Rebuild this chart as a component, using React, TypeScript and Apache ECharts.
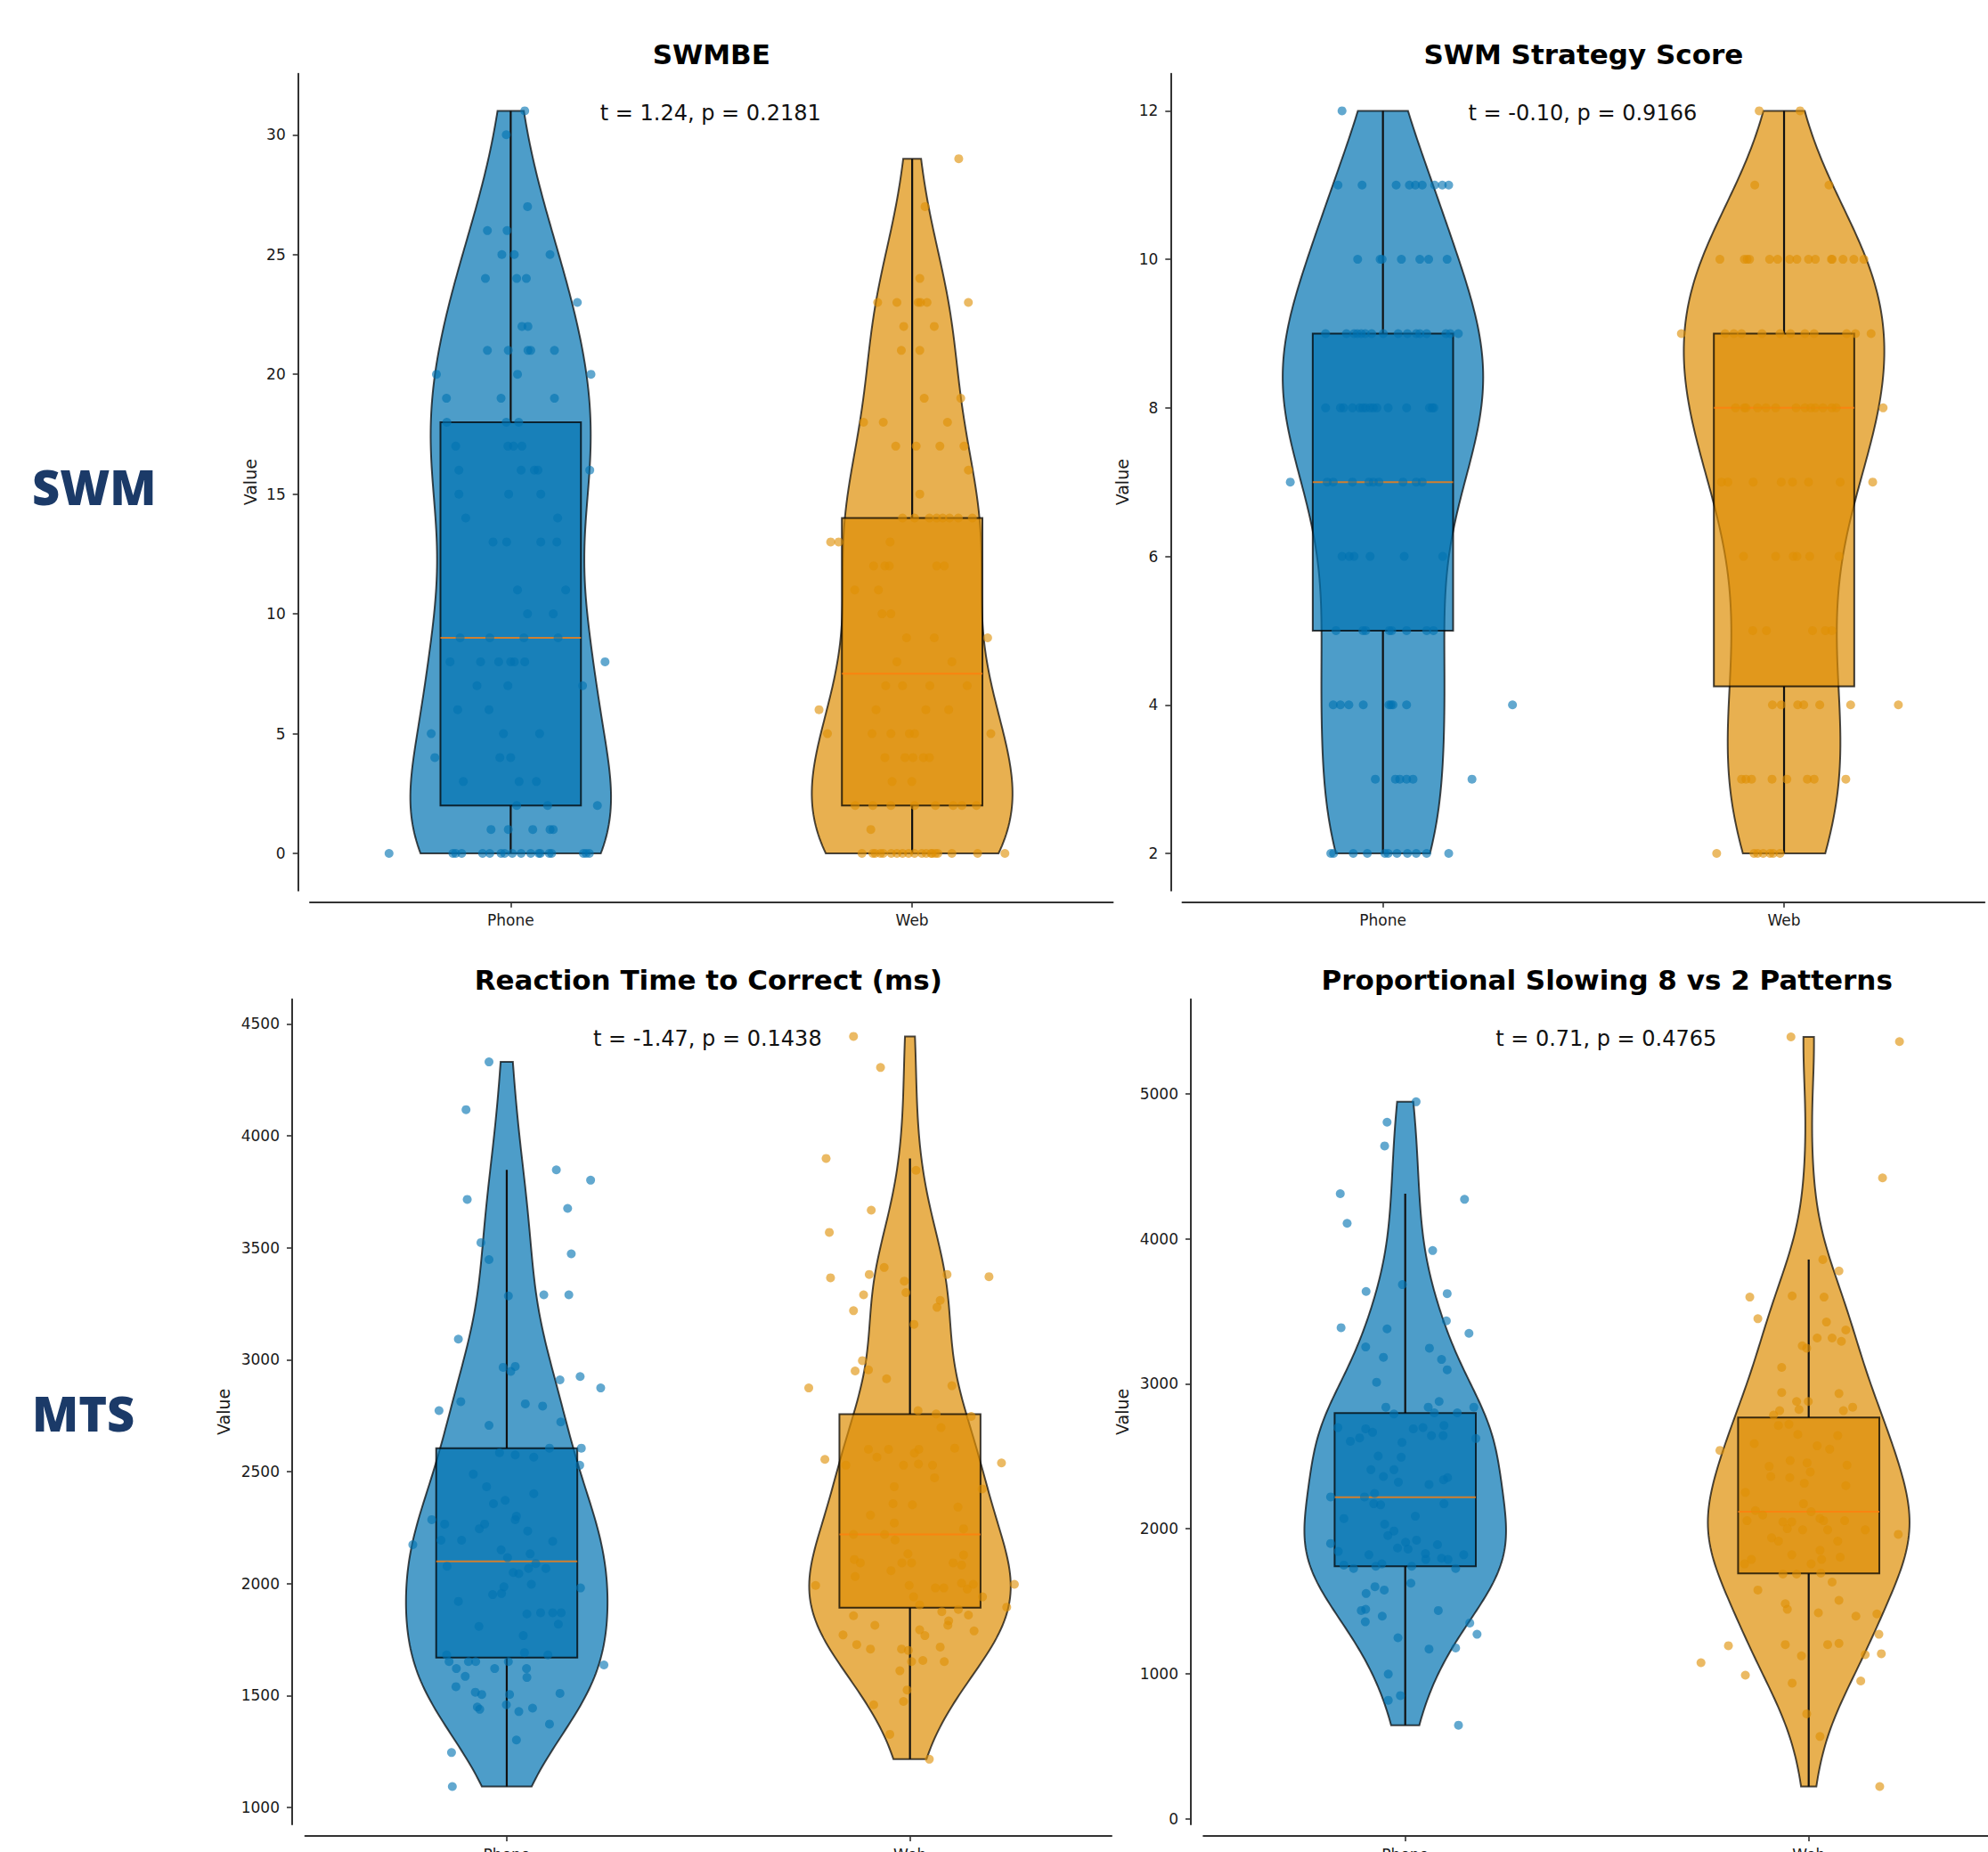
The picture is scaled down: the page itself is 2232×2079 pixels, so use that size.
import React, { useEffect, useRef } from 'react';
import * as echarts from 'echarts';

// ---------------- data ----------------
const categories = ['Phone', 'Web'];
const panelTitles = ['SWMBE', 'SWM Strategy Score', 'Reaction Time to Correct (ms)', 'Proportional Slowing 8 vs 2 Patterns'];
const statTexts = ['t = 1.24, p = 0.2181', 't = -0.10, p = 0.9166', 't = -1.47, p = 0.1438', 't = 0.71, p = 0.4765'];
const rowLabels = ['SWM', 'MTS'];
const yAxisName = 'Value';

const swmbeTicks = [0, 5, 10, 15, 20, 25, 30];
const strategyTicks = [2, 4, 6, 8, 10, 12];
const rtTicks = [1000, 1500, 2000, 2500, 3000, 3500, 4000, 4500];
const psTicks = [0, 1000, 2000, 3000, 4000, 5000];

const swmbeLimits = [-1.55, 32.55];
const strategyLimits = [1.5, 12.5];
const rtLimits = [925, 4610];
const psLimits = [-38, 5652];

// box statistics [lower whisker, Q1, median, Q3, upper whisker] for Phone, Web
const swmbeBoxes = [[0, 2, 9, 18, 31], [0, 2, 7.5, 14, 29]];
const strategyBoxes = [[2, 5, 7, 9, 12], [2, 4.25, 8, 9, 12]];
const rtBoxes = [[1094, 1670, 2100, 2605, 3848], [1216, 1893, 2220, 2757, 3899]];
const psBoxes = [[646, 1742, 2218, 2799, 4311], [223, 1692, 2118, 2768, 3857]];

// individual observations: [value, horizontal jitter in category units]
const swmbePhone: [number, number][] = [[31,.035],[30,-.011],[27,.042],[26,-.058],[26,-.009],[25,-.022],[25,.009],[25,.098],[24,-.063],[24,.015],[24,.039],[23,.166],[22,.028],[22,.043],[21,-.058],[21,-.006],[21,.043],[21,.05],[21,.109],[20,-.185],[20,.017],[20,.2],[19,-.16],[19,-.024],[19,.109],[18,-.159],[18,-.011],[18,.02],[17,-.137],[17,-.007],[17,.007],[17,.028],[16,-.129],[16,.026],[16,.059],[16,.068],[16,.197],[15,-.129],[15,-.005],[15,.075],[14,-.112],[14,.117],[13,-.044],[13,-.01],[13,.075],[13,.115],[11,.017],[11,.137],[10,.042],[10,.106],[9,-.126],[9,.033],[9,-.052],[9,.118],[8,-.151],[8,-.075],[8,-.03],[8,0],[8,.009],[8,.035],[8,.235],[7,-.084],[7,-.007],[7,.179],[6,-.132],[6,-.054],[5,-.198],[5,-.018],[5,.072],[4,-.189],[4,-.027],[4,0],[3,-.118],[3,.021],[3,.064],[2,.015],[2,.092],[2,.216],[1,-.049],[1,-.006],[1,.055],[1,.098],[1,.106],[0,-.303],[0,-.144],[0,-.137],[0,-.122],[0,-.07],[0,-.052],[0,-.024],[0,-.015],[0,.004],[0,.026],[0,.05],[0,.07],[0,.074],[0,.096],[0,.102],[0,.181],[0,.188],[0,.196]];
const swmbeWeb: [number, number][] = [[29,.116],[27,.032],[24,.019],[23,-.086],[23,-.038],[23,.015],[23,.021],[23,.037],[23,.14],[22,-.021],[22,.055],[21,-.027],[21,.019],[19,.03],[19,.121],[18,-.121],[18,-.072],[18,.088],[17,-.041],[17,.01],[17,.069],[17,.129],[16,.14],[15,.019],[14,.006],[14,.043],[14,.061],[14,.076],[14,.093],[14,.115],[14,.15],[14,-.024],[13,-.203],[13,-.183],[13,-.055],[12,-.096],[12,-.068],[12,-.057],[12,.061],[12,.08],[11,-.143],[11,-.084],[10,-.075],[10,-.053],[9,-.014],[9,.055],[9,.188],[8,-.038],[8,.099],[7,-.066],[7,.044],[7,.137],[7,-.024],[6,-.232],[6,.034],[6,.091],[6,-.09],[5,-.211],[5,-.1],[5,-.053],[5,-.007],[5,.006],[5,.196],[4,-.018],[4,.002],[4,.028],[4,.043],[4,-.068],[3,-.05],[3,-.001],[2,.006],[2,.058],[2,.102],[2,.16],[2,-.142],[2,-.098],[2,-.053],[2,.124],[1,-.103],[0,-.125],[0,-.098],[0,-.092],[0,-.079],[0,-.072],[0,-.052],[0,-.024],[0,.006],[0,.024],[0,.047],[0,.05],[0,.064],[0,.099],[0,.163],[0,.231],[0,-.038],[0,-.009],[0,.035],[0,.058]];
const strategyPhone: [number, number][] = [[12,-.102],[11,-.112],[11,-.052],[11,.033],[11,.066],[11,.081],[11,.098],[11,.129],[11,.148],[11,.164],[10,-.063],[10,-.007],[10,-.002],[10,.092],[10,.114],[10,.16],[10,.046],[9,-.143],[9,-.091],[9,-.072],[9,-.064],[9,-.054],[9,-.044],[9,.001],[9,.038],[9,.083],[9,.092],[9,.109],[9,.157],[9,.168],[9,.188],[9,-.028],[9,.061],[8,-.143],[8,-.106],[8,-.098],[8,-.076],[8,-.058],[8,-.043],[8,-.032],[8,-.024],[8,-.015],[8,.013],[8,.059],[8,.116],[8,.127],[8,-.05],[8,.123],[7,-.231],[7,-.139],[7,-.076],[7,-.035],[7,-.01],[7,.05],[7,.083],[7,-.124],[7,-.024],[7,.098],[6,-.102],[6,-.084],[6,-.072],[6,-.032],[6,.053],[6,.149],[5,-.117],[5,-.05],[5,-.043],[5,.016],[5,.022],[5,.059],[5,.109],[5,.126],[4,-.124],[4,-.106],[4,-.085],[4,-.049],[4,.015],[4,.02],[4,.025],[4,.059],[4,.323],[3,-.019],[3,.031],[3,.042],[3,.059],[3,.075],[3,.222],[2,-.13],[2,-.123],[2,-.074],[2,-.039],[2,.005],[2,.013],[2,.035],[2,.061],[2,.083],[2,.109],[2,.164]];
const strategyWeb: [number, number][] = [[12,-.062],[12,.04],[11,-.073],[11,.112],[10,-.16],[10,-.099],[10,-.092],[10,-.086],[10,-.036],[10,-.016],[10,.014],[10,.032],[10,.061],[10,.078],[10,.118],[10,.12],[10,.147],[10,.174],[10,.199],[9,-.256],[9,-.147],[9,-.125],[9,-.106],[9,-.055],[9,-.01],[9,.016],[9,.052],[9,.075],[9,.156],[9,.178],[9,.217],[8,-.121],[8,-.099],[8,-.095],[8,-.066],[8,-.045],[8,.03],[8,.052],[8,.067],[8,.078],[8,.119],[8,.13],[8,.247],[8,-.021],[8,.097],[7,-.156],[7,-.14],[7,-.077],[7,-.007],[7,.021],[7,.061],[7,.14],[7,.221],[6,-.101],[6,-.021],[6,.023],[6,.032],[6,.064],[6,.137],[5,-.078],[5,-.044],[5,.071],[5,.103],[5,.119],[4,-.029],[4,-.007],[4,.034],[4,.049],[4,.089],[4,.166],[4,.285],[3,-.106],[3,-.095],[3,-.081],[3,-.03],[3,.007],[3,.058],[3,.075],[3,.154],[2,-.168],[2,-.075],[2,-.066],[2,-.052],[2,-.035],[2,-.027],[2,-.01]];
const rtPhone: [number, number][] = [[4330,-.044],[4117,-.101],[3716,-.098],[3848,.123],[3802,.208],[3676,.151],[3523,-.064],[3447,-.044],[3473,.16],[3285,.004],[3290,.092],[3290,.154],[3092,-.12],[2966,-.009],[2948,.01],[2970,.021],[2910,.132],[2925,.182],[2874,.233],[2773,-.168],[2813,-.114],[2803,.046],[2793,.089],[2707,-.044],[2722,.134],[2585,-.018],[2575,.021],[2565,.067],[2605,.106],[2605,.185],[2529,.181],[2489,-.083],[2433,-.05],[2402,.067],[2372,-.004],[2357,-.033],[2286,-.186],[2266,-.154],[2266,-.055],[2235,.052],[2301,.024],[2286,.021],[2245,-.068],[2174,-.233],[2194,-.163],[2194,-.112],[2189,.114],[2151,-.014],[2116,.002],[2133,.058],[2090,.072],[2078,-.148],[2068,.097],[2050,.016],[2045,.03],[2068,.054],[1981,.183],[1986,-.007],[1997,.061],[1951,-.035],[1956,-.013],[1921,-.12],[1870,.084],[1870,.114],[1870,.135],[1865,.05],[1819,.128],[1809,-.069],[1768,.041],[1682,.102],[1692,.044],[1682,-.149],[1652,-.143],[1652,-.095],[1652,-.077],[1652,.004],[1621,-.125],[1621,-.03],[1621,.049],[1586,-.103],[1581,.05],[1637,.241],[1540,-.126],[1515,-.078],[1505,-.062],[1505,.007],[1510,.132],[1459,-.001],[1449,-.073],[1439,-.067],[1444,.064],[1429,.03],[1373,.106],[1302,.024],[1246,-.137],[1094,-.135]];
const rtWeb: [number, number][] = [[4444,-.14],[4305,-.073],[3899,-.208],[3846,.015],[3668,-.096],[3569,-.2],[3366,-.197],[3381,-.101],[3412,-.064],[3381,.092],[3371,.196],[3351,-.014],[3300,-.01],[3290,-.115],[3265,.075],[3234,.067],[3219,-.14],[3158,.01],[2996,-.118],[2950,-.136],[2955,-.103],[2915,-.058],[2874,-.251],[2884,.104],[2773,.02],[2758,.065],[2747,.152],[2697,.077],[2600,-.103],[2600,-.053],[2565,-.082],[2583,.011],[2600,.022],[2605,.111],[2555,-.211],[2529,-.159],[2529,-.016],[2534,.021],[2529,.056],[2539,.227],[2473,.061],[2433,-.039],[2423,.179],[2357,-.042],[2352,.006],[2342,.119],[2306,-.098],[2271,-.039],[2245,.133],[2220,-.14],[2220,-.063],[2195,-.037],[2108,-.138],[2093,-.123],[2133,-.005],[2093,-.02],[2093,.004],[2093,.107],[2128,.133],[2083,.128],[2058,-.047],[2032,-.136],[1992,-.234],[1992,-.002],[1981,.063],[1981,.084],[2002,.128],[1976,.142],[1997,.157],[1997,.259],[1941,.009],[1941,.18],[1905,.024],[1895,.24],[1857,-.14],[1875,.079],[1885,.12],[1860,.145],[1834,.096],[1814,-.087],[1814,.094],[1794,.024],[1768,.037],[1789,.159],[1771,-.166],[1728,-.132],[1708,-.098],[1708,-.021],[1702,-.004],[1717,.075],[1652,.004],[1657,.032],[1652,.085],[1611,-.025],[1525,-.007],[1474,-.016],[1459,-.09],[1327,-.05],[1216,.048]];
const psPhone: [number, number][] = [[4945,.027],[4804,-.045],[4640,-.051],[4311,-.161],[4272,.147],[4107,-.144],[3919,.068],[3684,-.007],[3637,-.097],[3622,.104],[3434,.102],[3387,-.159],[3379,-.045],[3348,.158],[3254,-.098],[3246,.06],[3183,-.054],[3168,.09],[3097,.104],[3011,-.071],[2878,.084],[2839,-.048],[2839,.057],[2839,.17],[2792,-.028],[2800,.072],[2800,.129],[2713,.096],[2698,-.167],[2690,.02],[2698,.044],[2690,-.098],[2666,-.081],[2627,-.113],[2604,-.136],[2643,.065],[2643,.094],[2596,-.008],[2623,.175],[2502,-.067],[2494,-.01],[2408,-.085],[2408,-.028],[2361,-.054],[2353,.105],[2338,.095],[2322,-.017],[2306,.059],[2244,-.076],[2220,-.185],[2220,-.101],[2173,-.078],[2165,-.061],[2173,.096],[2087,.025],[2071,-.152],[2032,-.051],[1985,-.028],[1954,-.043],[1922,.028],[1899,-.185],[1907,.001],[1891,.08],[1868,-.019],[1860,.007],[1829,.05],[1789,.051],[1797,.09],[1789,.106],[1821,.145],[1844,-.166],[1821,-.09],[1758,-.058],[1742,.016],[1750,-.152],[1727,-.128],[1727,.125],[1742,-.073],[1625,.014],[1601,-.075],[1578,-.052],[1554,-.097],[1437,-.109],[1445,-.098],[1437,.082],[1398,-.057],[1359,-.099],[1351,.16],[1273,.178],[1249,-.018],[1171,.059],[1179,.125],[998,-.042],[850,-.012],[818,-.042],[646,.132]];
const psWeb: [number, number][] = [[5392,-.044],[5360,.225],[4420,.183],[3778,.075],[3857,.035],[3598,-.146],[3606,-.041],[3598,.038],[3449,-.126],[3426,.044],[3371,.092],[3316,.021],[3316,.058],[3293,.081],[3262,-.016],[3246,-.005],[3113,-.067],[2940,-.067],[2933,.075],[2878,-.03],[2878,-.001],[2823,-.024],[2815,-.072],[2839,.109],[2815,.086],[2784,-.087],[2721,-.049],[2713,-.075],[2651,-.027],[2643,.072],[2588,-.135],[2572,.021],[2541,-.22],[2549,.052],[2471,-.046],[2431,-.098],[2455,-.004],[2439,.095],[2361,-.094],[2353,-.047],[2392,.004],[2314,-.011],[2298,.092],[2251,-.157],[2173,-.013],[2126,-.132],[2095,-.114],[2118,.006],[2071,.028],[2056,.037],[2056,-.153],[2048,-.064],[2048,-.042],[2056,.089],[2001,-.053],[1993,-.015],[1993,.047],[1993,.14],[1962,.222],[1938,-.092],[1915,-.075],[1915,.072],[1852,.028],[1821,-.042],[1805,.078],[1789,-.142],[1758,-.159],[1758,.006],[1789,.032],[1688,-.064],[1688,-.03],[1695,.03],[1633,.058],[1578,-.126],[1484,-.058],[1445,-.053],[1507,.075],[1421,.024],[1398,.117],[1413,.169],[1273,.174],[1194,-.199],[1202,-.058],[1202,.047],[1210,.075],[1132,.14],[1139,.18],[1077,-.267],[1124,-.018],[991,-.157],[936,-.041],[951,.129],[724,-.005],[568,.028],[223,.176]];

// ---------------- styling / layout ----------------
const BASE = [[1, 115, 178], [222, 143, 5]];
const rgba = (c: number[], a: number) => `rgba(${c[0]},${c[1]},${c[2]},${a})`;
const FONT = 'DejaVu Sans';
const TEXT = '#1a1a1a';

const layout = [
  { left: 348, top: 82.7, width: 901.5, height: 917, yOffset: 13.3, nameGap: 44.5, titleY: 61, statY: 127 },
  { left: 1327.5, top: 82.7, width: 900.7, height: 917, yOffset: 13.2, nameGap: 44.5, titleY: 61, statY: 127 },
  { left: 342.6, top: 1121.7, width: 905.4, height: 926.3, yOffset: 14.6, nameGap: 67.5, titleY: 1100, statY: 1166 },
  { left: 1351.2, top: 1121.7, width: 906, height: 926.3, yOffset: 14.2, nameGap: 67.5, titleY: 1100, statY: 1166 },
];

const panels = [
  { ticks: swmbeTicks, limits: swmbeLimits, groups: [swmbePhone, swmbeWeb], boxes: swmbeBoxes },
  { ticks: strategyTicks, limits: strategyLimits, groups: [strategyPhone, strategyWeb], boxes: strategyBoxes },
  { ticks: rtTicks, limits: rtLimits, groups: [rtPhone, rtWeb], boxes: rtBoxes },
  { ticks: psTicks, limits: psLimits, groups: [psPhone, psWeb], boxes: psBoxes },
];

// Gaussian KDE (Scott's rule), evaluated between min and max, max half-width 0.25
function violinProfile(values: number[], steps = 180): [number, number][] {
  const n = values.length;
  const mean = values.reduce((s, v) => s + v, 0) / n;
  const sd = Math.sqrt(values.reduce((s, v) => s + (v - mean) * (v - mean), 0) / (n - 1));
  const bw = sd * Math.pow(n, -0.2);
  const lo = Math.min(...values);
  const hi = Math.max(...values);
  const out: [number, number][] = [];
  for (let i = 0; i < steps; i++) {
    const y = lo + ((hi - lo) * i) / (steps - 1);
    let d = 0;
    for (const v of values) {
      const z = (y - v) / bw;
      d += Math.exp(-0.5 * z * z);
    }
    out.push([y, d]);
  }
  const dmax = Math.max(...out.map((p) => p[1]));
  return out.map(([y, d]) => [y, (0.25 * d) / dmax]);
}

function buildOption() {
  const grid: any[] = [];
  const xAxis: any[] = [];
  const yAxis: any[] = [];
  const series: any[] = [];
  const graphic: any[] = [];

  panels.forEach((p, i) => {
    const L = layout[i];
    grid.push({ left: L.left, top: L.top, width: L.width, height: L.height, containLabel: false, outerBoundsMode: 'none' });
    xAxis.push({
      type: 'value', gridIndex: i, min: -0.5, max: 1.5, offset: 13,
      axisLine: { show: true, onZero: false, lineStyle: { color: '#333', width: 2 } },
      axisTick: { show: true, customValues: [0, 1], length: 6, lineStyle: { color: '#333', width: 1.6 } },
      axisLabel: { customValues: [0, 1], formatter: (v: number) => categories[Math.round(v)], fontSize: 17, color: TEXT, margin: 12, fontFamily: FONT },
      splitLine: { show: false },
    });
    yAxis.push({
      type: 'value', gridIndex: i, min: p.limits[0], max: p.limits[1], offset: L.yOffset,
      name: yAxisName, nameLocation: 'middle', nameGap: L.nameGap,
      nameTextStyle: { fontSize: 19, color: TEXT, fontFamily: FONT },
      axisLine: { show: true, onZero: false, lineStyle: { color: '#333', width: 2 } },
      axisTick: { show: true, customValues: p.ticks, length: 6, lineStyle: { color: '#333', width: 1.6 } },
      axisLabel: { customValues: p.ticks, formatter: (v: number) => String(v), fontSize: 17, color: TEXT, margin: 14, fontFamily: FONT },
      splitLine: { show: false },
    });

    const profiles = p.groups.map((g) => violinProfile(g.map((d) => d[0])));

    series.push({
      type: 'custom', xAxisIndex: i, yAxisIndex: i, z: 1, silent: true,
      data: p.groups.map((g, gi) => [gi, Math.min(...g.map((d) => d[0])), Math.max(...g.map((d) => d[0]))]),
      encode: { x: 0, y: [1, 2] },
      renderItem: (params: any, api: any) => {
        const gi = api.value(0);
        const prof = profiles[gi];
        const right = prof.map(([y, w]) => api.coord([gi + w, y]));
        const left = prof.slice().reverse().map(([y, w]) => api.coord([gi - w, y]));
        return {
          type: 'polygon',
          shape: { points: right.concat(left) },
          style: { fill: rgba(BASE[gi], 0.7), stroke: 'rgba(0,0,0,0.7)', lineWidth: 2 },
        };
      },
    });

    series.push({
      type: 'custom', xAxisIndex: i, yAxisIndex: i, z: 2, silent: true,
      data: p.boxes.map((b, gi) => [gi, ...b]),
      encode: { x: 0, y: [1, 2, 3, 4, 5] },
      renderItem: (params: any, api: any) => {
        const gi = api.value(0);
        const half = 0.175;
        const cx = api.coord([gi, api.value(3)])[0];
        const yLo = api.coord([gi, api.value(1)])[1];
        const yQ1 = api.coord([gi, api.value(2)])[1];
        const yMed = api.coord([gi, api.value(3)])[1];
        const yQ3 = api.coord([gi, api.value(4)])[1];
        const yHi = api.coord([gi, api.value(5)])[1];
        const xl = api.coord([gi - half, 0])[0];
        const xr = api.coord([gi + half, 0])[0];
        return {
          type: 'group',
          children: [
            { type: 'line', shape: { x1: cx, y1: yLo, x2: cx, y2: yQ1 }, style: { stroke: '#111', lineWidth: 2.2 } },
            { type: 'line', shape: { x1: cx, y1: yQ3, x2: cx, y2: yHi }, style: { stroke: '#111', lineWidth: 2.2 } },
            { type: 'rect', shape: { x: xl, y: yQ3, width: xr - xl, height: yQ1 - yQ3 }, style: { fill: rgba(BASE[gi], 0.7), stroke: 'rgba(0,0,0,0.75)', lineWidth: 2 } },
            { type: 'line', shape: { x1: xl, y1: yMed, x2: xr, y2: yMed }, style: { stroke: 'rgba(255,127,14,0.8)', lineWidth: 2 } },
          ],
        };
      },
    });

    p.groups.forEach((g, gi) => {
      series.push({
        type: 'scatter', xAxisIndex: i, yAxisIndex: i, z: 3, silent: true,
        name: categories[gi],
        symbol: 'circle', symbolSize: 10,
        itemStyle: { color: rgba(BASE[gi], 1), opacity: 0.62 },
        data: g.map(([v, j]) => [gi + j, v]),
      });
    });

    const cx = L.left + L.width / 2;
    graphic.push({
      type: 'text', x: cx, y: L.titleY, silent: true,
      style: { text: panelTitles[i], fontSize: 31, fontWeight: 'bold', fontFamily: FONT, fill: '#000', align: 'center', verticalAlign: 'middle', textAlign: 'center', textVerticalAlign: 'middle' },
    });
    graphic.push({
      type: 'text', x: cx - 1, y: L.statY, silent: true,
      style: { text: statTexts[i], fontSize: 24, fontFamily: FONT, fill: '#111', align: 'center', verticalAlign: 'middle', textAlign: 'center', textVerticalAlign: 'middle' },
    });
  });

  [546, 1586].forEach((y, r) => {
    graphic.push({
      type: 'text', x: 36, y, silent: true,
      style: { text: rowLabels[r], fontSize: 54, fontWeight: 800, fontFamily: 'Open Sans', fill: '#1b3a68', align: 'left', verticalAlign: 'middle', textAlign: 'left', textVerticalAlign: 'middle' },
    });
  });

  return {
    animation: false,
    backgroundColor: '#ffffff',
    textStyle: { fontFamily: FONT },
    grid, xAxis, yAxis, series, graphic,
  };
}

export default function App() {
  const ref = useRef<HTMLDivElement>(null);
  useEffect(() => {
    if (!ref.current) return;
    const chart = echarts.init(ref.current, undefined, { renderer: 'svg' });
    chart.setOption(buildOption() as any);
    return () => chart.dispose();
  }, []);
  return (
    <div
      ref={ref}
      style={{ position: 'absolute', left: 0, top: 0, width: 2232, height: 2079, background: '#fff' }}
    />
  );
}
